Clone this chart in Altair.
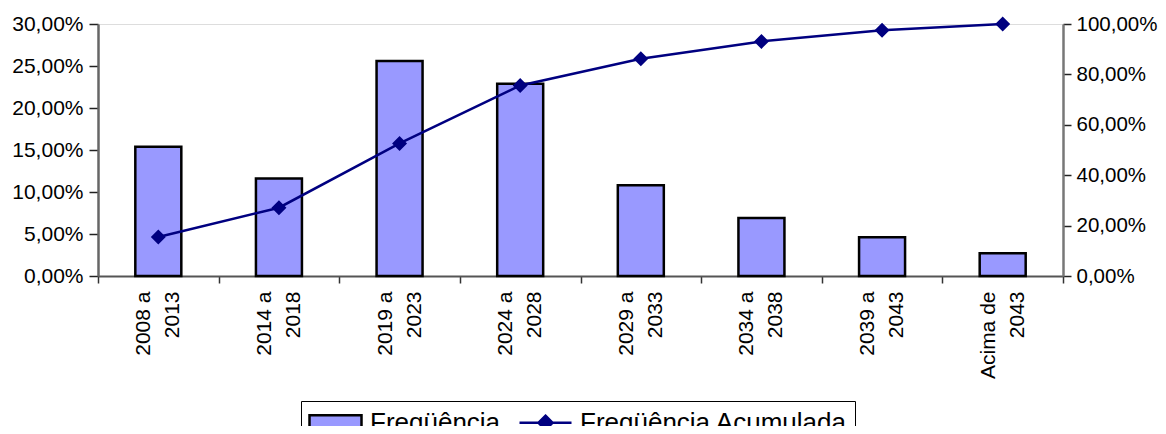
import altair as alt
import pandas as pd

categorias = ["2008 a|2013", "2014 a|2018", "2019 a|2023", "2024 a|2028",
              "2029 a|2033", "2034 a|2038", "2039 a|2043", "Acima de|2043"]
frequencia = [0.154, 0.116, 0.256, 0.229, 0.108, 0.069, 0.046, 0.027]
acumulada = [0.155, 0.271, 0.526, 0.756, 0.862, 0.931, 0.975, 1.000]
series = ["Freqüência", "Freqüência Acumulada"]
ticks_esq = [0, 0.05, 0.10, 0.15, 0.20, 0.25, 0.30]
ticks_dir = [0, 0.2, 0.4, 0.6, 0.8, 1.0]

df = pd.DataFrame({"cat": categorias, "freq": frequencia, "acum": acumulada})

FONT = "Liberation Sans"
pct_expr = "replace(format(datum.value, '.2%'), '.', ',')"

rect_path = "M-2,-0.58H2V0.58H-2Z"
line_path = "M-2,0H2M0,-0.54L0.54,0L0,0.54L-0.54,0Z"

x_enc = alt.X("cat:N", sort=categorias, scale=alt.Scale(paddingInner=0, paddingOuter=0),
              axis=alt.Axis(title=None, labelAngle=270, labelExpr="split(datum.label, '|')",
                            labelFontSize=21, labelLineHeight=29, labelColor="black",
                            labelFont=FONT, tickBand="extent", tickSize=7, tickColor="#333",
                            tickWidth=1.5, labelPadding=8, labelOffset=-14.5,
                            domainColor="#555", domainWidth=2))

fill_scale = alt.Scale(domain=series, range=["#9999FF", "#000080"])
stroke_scale = alt.Scale(domain=series, range=["black", "#000080"])
shape_scale = alt.Scale(domain=series, range=[rect_path, line_path])

legend = alt.Legend(
    title=None, orient="none", legendX=203, legendY=377, direction="horizontal",
    strokeColor="black", padding=7, labelFontSize=26, labelFont=FONT, labelColor="black",
    labelLimit=500, symbolSize=676, symbolStrokeWidth=2.5, symbolOffset=13, labelOffset=20,
    columnPadding=13, symbolOpacity=1,
)

y_izq = alt.Y("freq:Q", scale=alt.Scale(domain=[0, 0.30], nice=False),
              axis=alt.Axis(title=None, values=ticks_esq, labelExpr=pct_expr, orient="left",
                            labelFontSize=21, labelFont=FONT, labelColor="black", grid=False,
                            tickSize=9, tickColor="#222", tickWidth=1.5, labelPadding=6,
                            domainColor="#666", domainWidth=2.5))

bars = alt.Chart(df).transform_calculate(serie="'Freqüência'").mark_bar(
    width=46, strokeWidth=2.5, opacity=1
).encode(
    x=x_enc, y=y_izq,
    fill=alt.Fill("serie:N", scale=fill_scale, legend=legend),
    stroke=alt.Stroke("serie:N", scale=stroke_scale, legend=legend),
)

y_dir = alt.Y("acum:Q", scale=alt.Scale(domain=[0, 1.0], nice=False),
              axis=alt.Axis(title=None, values=ticks_dir, labelExpr=pct_expr, orient="right",
                            labelFontSize=20.5, labelFont=FONT, labelColor="black", grid=False,
                            tickSize=8, tickColor="#222", tickWidth=1.5, labelPadding=5,
                            domainColor="#777", domainWidth=2.5))

base_line = alt.Chart(df).transform_calculate(serie="'Freqüência Acumulada'")
line = base_line.mark_line(strokeWidth=2.5).encode(
    x=alt.X("cat:N", sort=categorias), y=y_dir,
    stroke=alt.Stroke("serie:N", scale=stroke_scale, legend=legend))
pts = base_line.mark_point(filled=True, size=770, opacity=1, strokeWidth=0).encode(
    x=alt.X("cat:N", sort=categorias), y=y_dir,
    fill=alt.Fill("serie:N", scale=fill_scale, legend=legend),
    shape=alt.Shape("serie:N", scale=shape_scale, legend=legend))

right = alt.layer(line, pts)

chart = alt.layer(bars, right).resolve_scale(y="independent").properties(
    width=965, height=252,
    autosize=alt.AutoSizeParams(type="none"),
    padding={"left": 90, "top": 16, "right": 95, "bottom": 150},
).configure_view(stroke="#999", strokeWidth=2).configure(font=FONT)

chart.save("out.html", embed_options={"renderer": "svg", "actions": False})
